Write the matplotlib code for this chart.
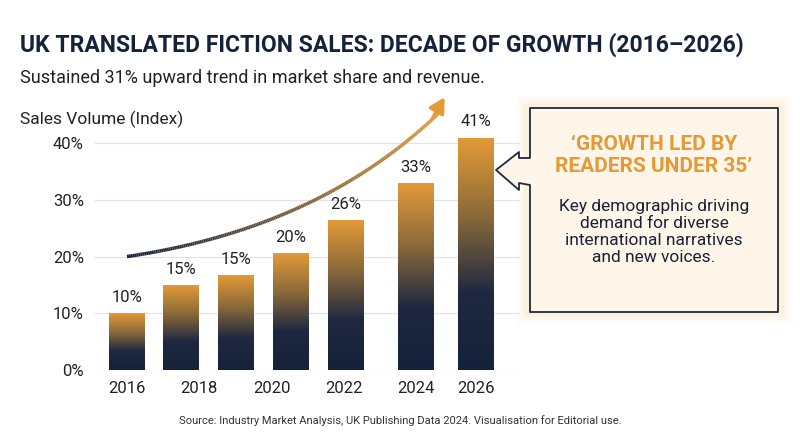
import numpy as np
import matplotlib
matplotlib.use('Agg')
import matplotlib.pyplot as plt
from matplotlib.colors import LinearSegmentedColormap
from matplotlib.collections import LineCollection
from matplotlib.patches import Polygon, FancyBboxPatch

plt.rcParams['font.family'] = ['Roboto', 'DejaVu Sans']

# data
bar_values = [10.0, 14.9, 16.6, 20.5, 26.3, 32.8, 40.9]
bar_labels = ['10%', '15%', '15%', '20%', '26%', '33%', '41%']
tick_years = ['2016', '2018', '2020', '2022', '2024', '2026']
y_ticks = [0, 10, 20, 30, 40]

# layout (pixel-like x positions)
bar_pos = [127, 181, 236, 291, 346, 416, 476]
tick_pos = [127, 199, 272, 344, 416, 476]
bar_w = 36

navy = '#15223b'
orange = '#e39a37'
cmap = LinearSegmentedColormap.from_list('bar', [navy, '#1f2840', '#8a6a3a', orange])

fig = plt.figure(figsize=(8, 4.47), dpi=100)
fig.patch.set_facecolor('white')
ax = fig.add_axes([95/800, 77/447, 425/800, 270/447])
ax.set_xlim(95, 520)
ax.set_ylim(0, 47.6)
for s in ax.spines.values():
    s.set_visible(False)
ax.set_yticks(y_ticks)
ax.set_yticklabels([f'{v}%' for v in y_ticks], fontsize=12, color='#222')
ax.set_xticks(tick_pos)
ax.set_xticklabels(tick_years, fontsize=12, color='#222')
ax.tick_params(length=0, pad=8)
ax.grid(axis='y', color='#e4e4e4', lw=0.9)
ax.set_axisbelow(True)

grad = np.linspace(0, 1, 256).reshape(-1, 1)
for x, v, lab in zip(bar_pos, bar_values, bar_labels):
    ax.imshow(grad, cmap=cmap, origin='lower', aspect='auto',
              extent=(x - bar_w/2, x + bar_w/2, 0, v), zorder=2)
    ax.text(x, v + 1.5, lab, ha='center', va='bottom', fontsize=12, color='#222')

# growth arrow
t = np.linspace(0, 1, 200)
p0, p1, p2 = np.array([127, 20]), np.array([320, 25]), np.array([440, 45.5])
curve = ((1-t)**2)[:, None]*p0 + (2*(1-t)*t)[:, None]*p1 + (t**2)[:, None]*p2
segs = np.stack([curve[:-1], curve[1:]], axis=1)
lc = LineCollection(segs, cmap=LinearSegmentedColormap.from_list('arr', [navy, orange]),
                    linewidth=2.5, zorder=3)
lc.set_array(t[:-1])
ax.add_collection(lc)
ax.annotate('', xy=(446, 48.5), xytext=(curve[-8, 0], curve[-8, 1]),
            arrowprops=dict(arrowstyle='-|>,head_length=0.9,head_width=0.5',
                            color=orange, lw=2.5), zorder=4, annotation_clip=False)

# callout box (figure pixel coords)
def fx(px): return px/800
def fy(py): return 1 - py/447
for pad, a in [(10, 0.12), (6, 0.18), (3, 0.25)]:
    glow = FancyBboxPatch((fx(530 - pad), fy(312 + pad)), fx(248 + 2*pad), fy(108 - pad) - fy(312 + pad),
                          boxstyle='round,pad=0.004', transform=fig.transFigure,
                          facecolor='#fbe3bd', edgecolor='none', alpha=a)
    fig.patches.append(glow)
verts = [(fx(530), fy(108)), (fx(778), fy(108)), (fx(778), fy(312)), (fx(530), fy(312)),
         (fx(530), fy(185)), (fx(519), fy(183)), (fx(519), fy(190)), (fx(496), fy(170)),
         (fx(519), fy(152)), (fx(519), fy(158)), (fx(530), fy(158))]
box = Polygon(verts, closed=True, transform=fig.transFigure,
              facecolor='#fff6e9', edgecolor='#1f2a3a', lw=1.3, joinstyle='round')
fig.patches.append(box)
fig.text(fx(654), fy(155), '‘GROWTH LED BY\nREADERS UNDER 35’', ha='center', va='center',
         fontsize=15, fontweight='bold', color='#e39a37', linespacing=1.2)
fig.text(fx(654), fy(232), 'Key demographic driving\ndemand for diverse\ninternational narratives\nand new voices.',
         ha='center', va='center', fontsize=12.5, color='#1a2236', linespacing=1.15)

# titles
fig.text(fx(20), fy(52), 'UK TRANSLATED FICTION SALES: DECADE OF GROWTH (2016–2026)',
         fontsize=16.5, fontweight='bold', color='#15223b', va='baseline')
fig.text(fx(20), fy(83), 'Sustained 31% upward trend in market share and revenue.',
         fontsize=13, color='#222', va='baseline')
fig.text(fx(20), fy(124), 'Sales Volume (Index)', fontsize=12.5, color='#222', va='baseline')
fig.text(fx(400), fy(421), 'Source: Industry Market Analysis, UK Publishing Data 2024. Visualisation for Editorial use.',
         fontsize=8, color='#333', ha='center', va='center')

fig.savefig('out.png', dpi=100, facecolor='white')
